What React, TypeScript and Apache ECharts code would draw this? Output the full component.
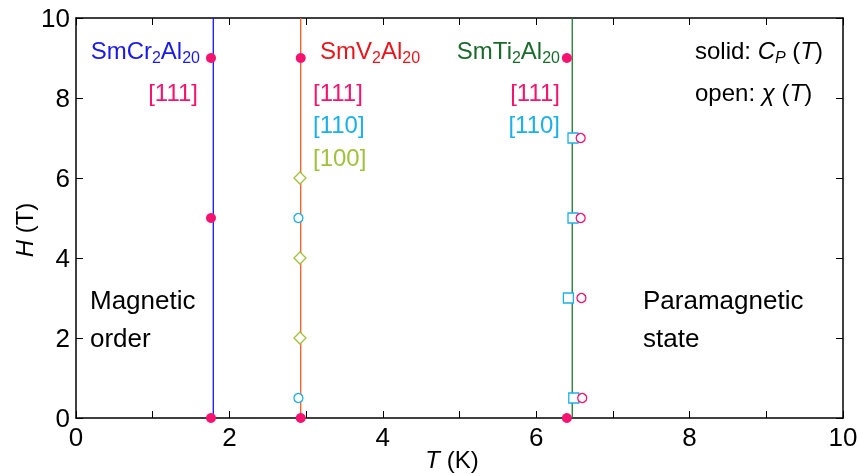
import React, { useEffect, useRef } from "react";
import * as echarts from "echarts";

const FONT = "'Liberation Sans', Arial, sans-serif";

// Transition lines (T in K)
const crLineT = 1.79;
const vLineT = 2.93;
const tiLineT = 6.47;
const lineH = [0, 10];

// SmCr2Al20: C_P(T), [111]
const crCpT = [1.76, 1.76, 1.76];
const crCpH = [9, 5, 0];
// SmV2Al20: C_P(T), [111]
const vCpT = [2.93, 2.93];
const vCpH = [9, 0];
// SmV2Al20: chi(T), [110]
const vChi110T = [2.9, 2.9];
const vChi110H = [5, 0.5];
// SmV2Al20: chi(T), [100]
const vChi100T = [2.92, 2.92, 2.92];
const vChi100H = [6, 4, 2];
// SmTi2Al20: C_P(T), [111]
const tiCpT = [6.4, 6.4];
const tiCpH = [9, 0];
// SmTi2Al20: chi(T), [110]
const tiChi110T = [6.48, 6.48, 6.42, 6.49];
const tiChi110H = [7, 5, 3, 0.5];
// SmTi2Al20: chi(T), [111]
const tiChi111T = [6.58, 6.58, 6.59, 6.6];
const tiChi111H = [7, 5, 3, 0.5];

const C_MAG = "#f5136f";
const C_CYAN = "#1cb0ea";
const C_OLIVE = "#9fc23c";

const zip = (a: number[], b: number[]) => a.map((v, i) => [v, b[i]]);

export default function App() {
  const ref = useRef<HTMLDivElement>(null);
  useEffect(() => {
    if (!ref.current) return;
    const chart = echarts.init(ref.current, null, { renderer: "svg", width: 861, height: 474 });
    const lineSeries = (t: number, color: string) => ({
      type: "line",
      data: zip([t, t], lineH),
      symbol: "none",
      lineStyle: { color, width: 1.3 },
      z: 2,
      silent: true,
    });
    const dots = (t: number[], h: number[]) => ({
      type: "scatter",
      data: zip(t, h),
      symbol: "circle",
      symbolSize: 10,
      itemStyle: { color: C_MAG, opacity: 1 },
      clip: false,
      z: 5,
    });
    const open = (t: number[], h: number[], symbol: string, size: number, color: string) => ({
      type: "scatter",
      data: zip(t, h),
      symbol,
      symbolSize: size,
      itemStyle: { color: "#fff", borderColor: color, borderWidth: 1.3, opacity: 1 },
      clip: false,
      z: 4,
    });
    const main = { fontSize: 24, fontFamily: FONT, lineHeight: 30 };
    const big = { fontSize: 26, fontFamily: FONT, lineHeight: 30 };
    const sub = { fontSize: 16, fontFamily: FONT, lineHeight: 14, verticalAlign: "bottom" };
    const richFor = (color: string) => ({
      a: { ...main, fill: color },
      b: { ...big, fill: color },
      s: { ...sub, fill: color },
      i: { ...main, fill: color, fontStyle: "italic" },
      si: { ...sub, fill: color, fontStyle: "italic" },
    });
    const txt = (
      x: number,
      y: number,
      text: string,
      color: string,
      align = "left",
      rotation = 0
    ) => ({
      type: "text",
      x,
      y,
      rotation,
      z: 10,
      style: {
        text,
        rich: richFor(color),
        fill: color,
        font: `24px ${FONT}`,
        align,
        verticalAlign: "middle",
      },
    });
    const axisCommon = {
      min: 0,
      max: 10,
      interval: 2,
      axisLine: { show: true, onZero: false, lineStyle: { color: "#000", width: 1.5 } },
      splitLine: { show: false },
    };
    const tick = { show: true, inside: true, length: 7, lineStyle: { color: "#000", width: 1 } };
    const minor = { show: true, splitNumber: 2, length: 7, lineStyle: { color: "#000", width: 1 } };
    chart.setOption({
      animation: false,
      grid: { left: 76, right: 18, top: 18, bottom: 56, outerBoundsMode: "none", containLabel: false },
      xAxis: [
        {
          type: "value",
          ...axisCommon,
          position: "bottom",
          axisTick: tick,
          minorTick: minor,
          axisLabel: { fontSize: 26, color: "#000", fontFamily: FONT, margin: 6 },
        },
        {
          type: "value",
          ...axisCommon,
          position: "top",
          axisTick: tick,
          minorTick: minor,
          axisLabel: { show: false },
        },
      ],
      yAxis: [
        {
          type: "value",
          ...axisCommon,
          position: "left",
          axisTick: tick,
          axisLabel: { fontSize: 26, color: "#000", fontFamily: FONT, margin: 6 },
        },
        {
          type: "value",
          ...axisCommon,
          position: "right",
          axisTick: tick,
          axisLabel: { show: false },
        },
      ],
      series: [
        lineSeries(crLineT, "#1515ff"),
        lineSeries(vLineT, "#f05a23"),
        lineSeries(tiLineT, "#1b7a30"),
        dots(crCpT, crCpH),
        dots(vCpT, vCpH),
        dots(tiCpT, tiCpH),
        open(vChi110T, vChi110H, "circle", 9, C_CYAN),
        open(vChi100T, vChi100H, "diamond", 12, C_OLIVE),
        open(tiChi110T, tiChi110H, "rect", 10, C_CYAN),
        open(tiChi111T, tiChi111H, "circle", 9, C_MAG),
      ],
      graphic: [
        txt(452, 459, "{i|T}{a| (K)}", "#000", "center"),
        txt(24, 230, "{i|H}{a| (T)}", "#000", "center", Math.PI / 2),
        txt(200, 50, "{a|SmCr}{s|2}{a|Al}{s|20}", "#1a1ae6", "right"),
        txt(198, 92, "{a|[111]}", C_MAG, "right"),
        txt(320, 50, "{a|SmV}{s|2}{a|Al}{s|20}", "#e8161c"),
        txt(313, 92, "{a|[111]}", C_MAG),
        txt(313, 124, "{a|[110]}", C_CYAN),
        txt(313, 157, "{a|[100]}", C_OLIVE),
        txt(560, 50, "{a|SmTi}{s|2}{a|Al}{s|20}", "#1b6a2c", "right"),
        txt(560, 92, "{a|[111]}", C_MAG, "right"),
        txt(560, 124, "{a|[110]}", C_CYAN, "right"),
        txt(695, 50, "{a|solid: }{i|C}{si|P}{a| (}{i|T}{a|)}", "#000"),
        txt(695, 92, "{a|open: }{i|χ}{a| (}{i|T}{a|)}", "#000"),
        txt(90, 300, "{b|Magnetic}", "#000"),
        txt(90, 338, "{b|order}", "#000"),
        txt(643, 300, "{b|Paramagnetic}", "#000"),
        txt(643, 338, "{b|state}", "#000"),
      ],
    });
    return () => chart.dispose();
  }, []);
  return (
    <div
      ref={ref}
      style={{ position: "fixed", left: 0, top: 0, width: 861, height: 474, overflow: "hidden" }}
    />
  );
}
